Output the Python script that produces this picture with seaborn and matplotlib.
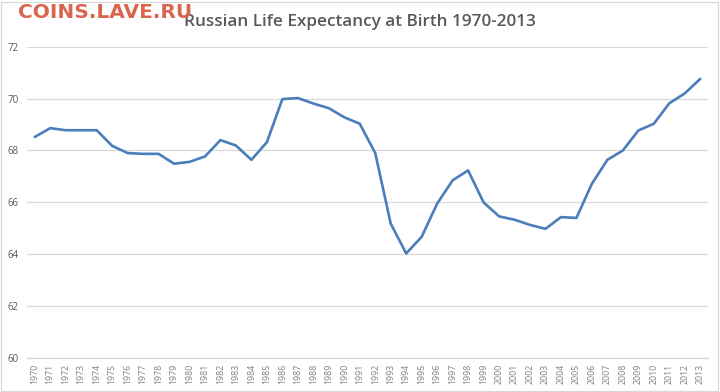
import matplotlib
matplotlib.use("Agg")
import matplotlib.pyplot as plt
import seaborn as sns
import pandas as pd
from matplotlib.patches import Rectangle

years = list(range(1970, 2014))
life_expectancy = [68.52, 68.86, 68.78, 68.78, 68.78, 68.18, 67.90, 67.87, 67.87, 67.49,
                   67.56, 67.77, 68.40, 68.19, 67.64, 68.32, 69.98, 70.02, 69.81, 69.63,
                   69.28, 69.03, 67.90, 65.18, 64.03, 64.67, 65.95, 66.85, 67.23, 66.00,
                   65.46, 65.33, 65.13, 64.98, 65.43, 65.40, 66.72, 67.64, 68.00, 68.77,
                   69.03, 69.82, 70.20, 70.76]
y_ticks = [60, 62, 64, 66, 68, 70, 72]
title = "Russian Life Expectancy at Birth 1970-2013"
watermark = "COINS.LAVE.RU"

df = pd.DataFrame({"pos": range(len(years)), "value": life_expectancy})

sns.set_theme(style="white")
plt.rcParams['font.family'] = ['Open Sans', 'DejaVu Sans']

fig = plt.figure(figsize=(7.2, 3.92), dpi=100)
ax = fig.add_axes([27/720, 1-358/392, 681/720, (358-46.7)/392])

sns.lineplot(data=df, x="pos", y="value", ax=ax, color="#4A7EBB", linewidth=1.9)

ax.set_xlim(-0.5, len(years) - 0.5)
ax.set_ylim(60, 72)
ax.set_yticks(y_ticks)
ax.set_yticklabels([str(v) for v in y_ticks], fontsize=7, color="#595959")
ax.set_xticks(range(len(years)))
ax.set_xticklabels([str(y) for y in years], rotation=90, fontsize=6.3, color="#7F7F7F")
ax.tick_params(axis="both", length=0, pad=6)
ax.tick_params(axis="x", pad=4)
ax.set_xlabel("")
ax.set_ylabel("")
ax.grid(axis="y", color="#D9D9D9", linewidth=0.9)
ax.grid(axis="x", visible=False)
for s in ["left", "right", "top"]:
    ax.spines[s].set_visible(False)
ax.spines["bottom"].set_color("#D9D9D9")
ax.spines["bottom"].set_linewidth(0.9)
ax.set_axisbelow(True)

fig.text(0.5, 1-22/392, title, ha="center", va="center", fontsize=12.3,
         color="#595959", fontweight="semibold")
fig.text(18/720, 1-12/392, watermark, ha="left", va="center", fontsize=14.5,
         color="#D9654F", fontweight="bold", family=["DejaVu Sans"])

fig.patches.append(Rectangle((1/720, 1/392), 717/720, 389/392, transform=fig.transFigure,
                             fill=False, edgecolor="#D9D9D9", linewidth=0.9))

fig.savefig("out.png", dpi=100)
